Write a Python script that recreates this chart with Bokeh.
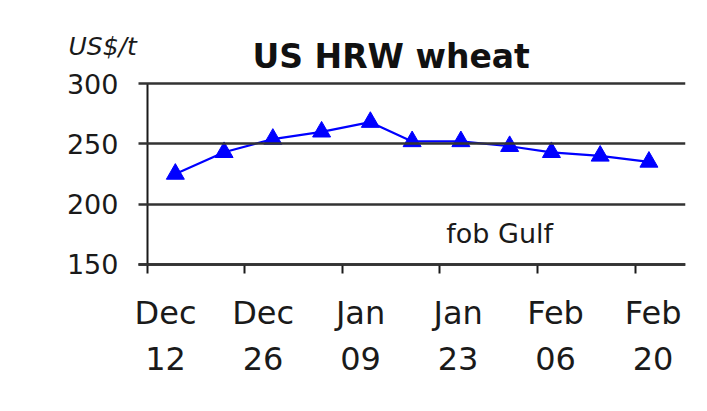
from datetime import datetime, timezone
from bokeh.plotting import figure
from bokeh.models import FixedTicker, LinearAxis, Label, Range1d
from bokeh.embed import file_html
from bokeh.resources import INLINE

# ---- data ----
dates = ["2011-12-16", "2011-12-23", "2011-12-30", "2012-01-06", "2012-01-13",
         "2012-01-19", "2012-01-26", "2012-02-02", "2012-02-08", "2012-02-15",
         "2012-02-22"]
prices = [225, 243, 254, 260, 268, 252, 252, 248, 243, 240, 235]

tick_dates = ["2011-12-12", "2011-12-26", "2012-01-09", "2012-01-23",
              "2012-02-06", "2012-02-20"]
tick_labels = ["Dec\n12", "Dec\n26", "Jan\n09", "Jan\n23", "Feb\n06", "Feb\n20"]
y_ticks = [150, 200, 250, 300]

title_text = "US HRW wheat"
unit_text = "US$/t"
note_text = "fob Gulf"

DAY = 24 * 3600 * 1000


def ms(s, days=0.0):
    d = datetime.strptime(s, "%Y-%m-%d").replace(tzinfo=timezone.utc)
    return int(d.timestamp() * 1000 + days * DAY)


xs = [ms(d) for d in dates]
tick_ms = [ms(d) for d in tick_dates]
label_ms = [t + int(2.6 * DAY) for t in tick_ms]
origin = tick_ms[0]
y_base = y_ticks[0]

FONT = "DejaVu Sans"
INK = "#1a1a1a"

x_start = ms("2011-12-12", -15.36)
x_end = ms("2012-02-27", 0.25)

p = figure(width=691, height=395, output_backend="svg", toolbar_location=None,
           x_axis_type=None, y_axis_type=None,
           x_range=Range1d(x_start, x_end), y_range=Range1d(136.7, 344),
           min_border_left=40, min_border_right=6,
           min_border_top=30, min_border_bottom=115)
p.outline_line_color = None
p.background_fill_color = "white"
p.border_fill_color = "white"

# y axis drawn at Dec 12; its long inner ticks are the horizontal grid lines
yaxis = LinearAxis(ticker=FixedTicker(ticks=y_ticks), fixed_location=origin,
                   bounds=(150, 300))
yaxis.axis_line_color = INK
yaxis.axis_line_width = 2
yaxis.major_tick_out = 9
yaxis.major_tick_in = 538
yaxis.major_tick_line_width = 2.5
yaxis.major_tick_line_color = "#333333"
yaxis.minor_tick_line_color = None
yaxis.major_label_standoff = 20
yaxis.major_label_text_font = FONT
yaxis.major_label_text_font_size = "27px"
yaxis.major_label_text_color = INK
p.add_layout(yaxis, "left")

# x axis: line and tick marks, drawn at 150
xaxis = LinearAxis(ticker=FixedTicker(ticks=tick_ms), fixed_location=y_base,
                   bounds=(origin - int(1.3 * DAY), x_end))
xaxis.axis_line_color = INK
xaxis.axis_line_width = 2.5
xaxis.major_tick_out = 9
xaxis.major_tick_in = 0
xaxis.major_tick_line_width = 2
xaxis.major_tick_line_color = INK
xaxis.minor_tick_line_color = None
xaxis.major_label_text_font_size = "1px"
xaxis.major_label_text_color = None
xaxis.major_label_standoff = 0
p.add_layout(xaxis, "below")

# x axis: two-line date labels
xlab = LinearAxis(ticker=FixedTicker(ticks=label_ms),
                  major_label_overrides=dict(zip(label_ms, tick_labels)))
xlab.axis_line_color = None
xlab.major_tick_line_color = None
xlab.minor_tick_line_color = None
xlab.major_tick_out = 0
xlab.major_tick_in = 0
xlab.major_label_standoff = 13
xlab.major_label_text_font = FONT
xlab.major_label_text_font_size = "32px"
xlab.major_label_text_color = INK
xlab.major_label_text_line_height = 1.22
p.add_layout(xlab, "below")

# series
p.line(xs, prices, line_color="#0000ff", line_width=2.2)
p.scatter(xs, prices, marker="triangle", size=18,
          fill_color="#0000ff", line_color="#0000ff")

# texts
p.add_layout(Label(x=ms("2011-12-12", 15.08), y=322.4, text=title_text,
                   text_font=FONT, text_font_size="33px", text_font_style="bold",
                   text_color="#111111", text_baseline="middle", text_align="left"))
p.add_layout(Label(x=ms("2011-12-12", -11.34), y=330.7, text=unit_text,
                   text_font=FONT, text_font_size="25px", text_font_style="italic",
                   text_color=INK, text_baseline="middle", text_align="left"))
p.add_layout(Label(x=ms("2012-01-23", 0.9), y=175.5, text=note_text,
                   text_font=FONT, text_font_size="27px",
                   text_color=INK, text_baseline="middle", text_align="left"))

open("out.html", "w").write(file_html(p, INLINE))
